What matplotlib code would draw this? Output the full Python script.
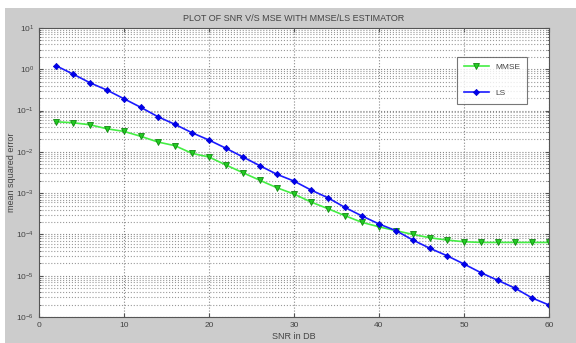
import numpy as np
import matplotlib
matplotlib.use('Agg')
import matplotlib.pyplot as plt
from matplotlib.patches import Rectangle
from matplotlib.ticker import FixedLocator, NullFormatter

plt.rcParams['font.family'] = ['Liberation Sans', 'DejaVu Sans']

snr = [2, 4, 6, 8, 10, 12, 14, 16, 18, 20, 22, 24, 26, 28, 30,
       32, 34, 36, 38, 40, 42, 44, 46, 48, 50, 52, 54, 56, 58, 60]

mmse = [0.0536, 0.0507, 0.0453, 0.0362, 0.0313, 0.0237, 0.0173, 0.0141, 0.0092, 0.0075,
        0.0048, 0.00312, 0.00204, 0.00135, 9.5e-4, 6.1e-4, 4.2e-4, 2.84e-4, 1.96e-4, 1.53e-4,
        1.23e-4, 1.0e-4, 8.3e-5, 7.3e-5, 6.65e-5, 6.4e-5, 6.4e-5, 6.4e-5, 6.4e-5, 6.4e-5]

ls = [1.22, 0.766, 0.471, 0.313, 0.193, 0.119, 0.0708, 0.0463, 0.029, 0.0193,
      0.0122, 0.0075, 0.0046, 0.00285, 0.00196, 0.00119, 7.7e-4, 4.5e-4, 2.8e-4, 1.79e-4,
      1.23e-4, 7.3e-5, 4.6e-5, 3.05e-5, 1.92e-5, 1.18e-5, 7.7e-6, 5.0e-6, 2.9e-6, 1.95e-6]

decades = [1e-6, 1e-5, 1e-4, 1e-3, 1e-2, 1e-1, 1e0, 1e1]

fig = plt.figure(figsize=(5.76, 3.43), dpi=100, facecolor='white')
# grey matlab-style window area, white strip at top/left like the screenshot
fig.patches.append(Rectangle((5/576, 0), 1, (343-8)/343, transform=fig.transFigure,
                             facecolor='#cccccc', edgecolor='none', zorder=-10))

ax = fig.add_axes([39/576, 26/343, 510/576, 289/343])
ax.set_facecolor('white')

ax.semilogy(snr, mmse, '-', color='#44ee44', lw=1.2, marker='v', ms=4,
            mfc='#22cc22', mec='#118811', mew=0.6, label='MMSE')
ax.semilogy(snr, ls, '-', color='#1a1aff', lw=1.2, marker='D', ms=3.2,
            mfc='#0000ee', mec='#0000cc', mew=0.5, label='LS')

ax.set_xlim(0, 60)
ax.set_ylim(1e-6, 1e1)
ax.set_xticks([0, 10, 20, 30, 40, 50, 60])
ax.yaxis.set_major_locator(FixedLocator(decades))
minors = [m * d for d in decades[:-1] for m in range(2, 10)]
ax.yaxis.set_minor_locator(FixedLocator(minors))
ax.yaxis.set_minor_formatter(NullFormatter())

ax.grid(True, which='major', axis='both', color='#888888', ls=':', lw=0.8)
ax.grid(True, which='minor', axis='y', color='#999999', ls=':', lw=0.8)

ax.tick_params(which='both', direction='in', top=True, right=True,
               labelsize=6, colors='#555555', labelcolor='#444444')
ax.tick_params(which='major', length=3)
ax.tick_params(which='minor', length=1.5)
for s in ax.spines.values():
    s.set_color('#555555')
    s.set_linewidth(0.8)

ax.set_title('PLOT OF SNR V/S MSE WITH MMSE/LS ESTIMATOR', fontsize=6.5, color='#444444', pad=5)
ax.set_xlabel('SNR in DB', fontsize=6.5, color='#444444', labelpad=2)
ax.set_ylabel('mean squared error', fontsize=6.5, color='#444444')
ax.yaxis.set_label_coords(-0.046, 0.5)

leg = ax.legend(loc='upper right', bbox_to_anchor=(0.965, 0.915), fontsize=6,
                frameon=True, fancybox=False, edgecolor='#555555', labelspacing=2.2,
                handlelength=3, borderpad=0.8, labelcolor='#444444')
leg.get_frame().set_linewidth(0.8)

fig.savefig('out.png', dpi=100, facecolor=fig.get_facecolor())
